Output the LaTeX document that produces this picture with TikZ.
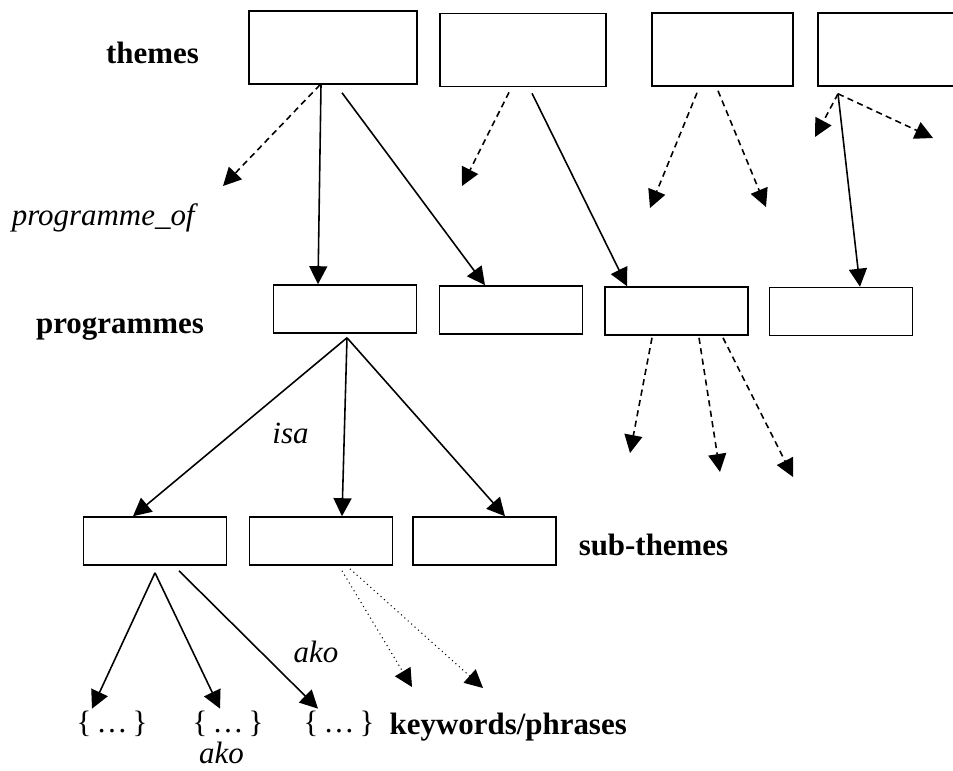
\documentclass[tikz,border=0pt]{standalone}
\usepackage{fontspec}
\setmainfont{Liberation Serif}
\usetikzlibrary{arrows.meta}

\begin{document}
\begin{tikzpicture}[
  font=\fontsize{17.6}{21}\selectfont,
  line width=0.9pt,
  >={Triangle[length=0.36cm,width=0.36cm]},
  topbox/.style={draw,minimum height=1.46cm},
  box/.style={draw,minimum width=2.86cm,minimum height=0.96cm},
  dashrel/.style={->,dash pattern=on 3.5pt off 2.5pt},
  dotrel/.style={->,dotted,line width=0.6pt}
]
\useasboundingbox (0,0) rectangle (19.06,15.4);
\clip (0,0) rectangle (19.06,15.4);

% themes
\node[topbox,minimum width=3.36cm] (T1) at (6.66,14.45) {};
\node[topbox,minimum width=3.32cm] (T2) at (10.46,14.40) {};
\node[topbox,minimum width=2.82cm] (T3) at (14.45,14.41) {};
\node[topbox,minimum width=2.82cm] (T4) at (17.77,14.41) {};
% programmes
\node[box] (P1) at (6.90,9.22) {};
\node[box] (P2) at (10.22,9.20) {};
\node[box] (P3) at (13.53,9.18) {};
\node[box] (P4) at (16.82,9.17) {};
% sub-themes
\node[box] (S1) at (3.10,4.58) {};
\node[box] (S2) at (6.42,4.58) {};
\node[box] (S3) at (9.69,4.58) {};
% keywords
\node[inner sep=1pt] (B1) at (2.24,0.92) {\{\,…\,\}};
\node[inner sep=1pt] (B2) at (4.56,0.92) {\{\,…\,\}};
\node[inner sep=1pt] (B3) at (6.78,0.92) {\{\,…\,\}};

\node (themes) at (3.05,14.34) {\textbf{themes}};
\node (progof) at (2.10,11.04) {\textit{programme\_of}};
\node (progs) at (2.40,8.83) {\textbf{programmes}};
\node (isa) at (5.81,6.74) {\textit{isa}};
\node (subth) at (13.07,4.50) {\textbf{sub-themes}};
\node[anchor=west] (kw) at (7.66,0.86) {\textbf{keywords/phrases}};
\node (ako1) at (6.32,2.37) {\textit{ako}};
\node[inner sep=0pt] (ako2) at (4.43,0.34) {\textit{ako}};

% loose ends
\coordinate (t1a) at (4.46,11.68);
\coordinate (t2a) at (9.24,11.68);
\coordinate (t3a) at (13.00,11.24);
\coordinate (t3b) at (15.32,11.26);
\coordinate (t4a) at (16.30,12.66);
\coordinate (t4b) at (18.66,12.64);
\coordinate (p3a) at (12.60,6.34);
\coordinate (p3b) at (14.40,5.96);
\coordinate (p3c) at (15.86,5.86);
\coordinate (s2a) at (8.24,1.66);
\coordinate (s2b) at (9.66,1.64);

% themes -> programmes
\draw[dashrel] ([xshift=-0.26cm]T1.south) -- (t1a);
\draw[->] ([xshift=-0.24cm]T1.south) -- ([xshift=-0.54cm]P1.north);
\draw[->] ([xshift=0.18cm,yshift=-0.16cm]T1.south) -- ([xshift=-0.52cm]P2.north);
\draw[dashrel] ([xshift=-0.28cm,yshift=-0.1cm]T2.south) -- (t2a);
\draw[->] ([xshift=0.18cm,yshift=-0.12cm]T2.south) -- ([xshift=-0.99cm]P3.north);
\draw[dashrel] ([xshift=-0.51cm,yshift=-0.12cm]T3.south) -- (t3a);
\draw[dashrel] ([xshift=-0.09cm,yshift=-0.08cm]T3.south) -- (t3b);
\draw[dashrel] ([xshift=-1.01cm,yshift=-0.14cm]T4.south) -- (t4a);
\draw[dashrel] ([xshift=-1.01cm,yshift=-0.14cm]T4.south) -- (t4b);
\draw[->] ([xshift=-1.01cm,yshift=-0.14cm]T4.south) -- ([xshift=0.38cm]P4.north);

% programmes -> sub-themes
\draw[->] ([xshift=0.04cm,yshift=-0.08cm]P1.south) -- ([xshift=-0.44cm]S1.north);
\draw[->] ([xshift=0.04cm,yshift=-0.08cm]P1.south) -- ([xshift=0.42cm]S2.north);
\draw[->] ([xshift=0.04cm,yshift=-0.08cm]P1.south) -- ([xshift=0.41cm]S3.north);
\draw[dashrel] ([xshift=-0.49cm,yshift=-0.04cm]P3.south) -- (p3a);
\draw[dashrel] ([xshift=0.45cm,yshift=-0.04cm]P3.south) -- (p3b);
\draw[dashrel] ([xshift=0.93cm,yshift=-0.04cm]P3.south) -- (p3c);

% sub-themes -> keywords
\draw[->] ([yshift=-0.14cm]S1.south) -- ([xshift=-0.4cm]B1.north);
\draw[->] ([yshift=-0.14cm]S1.south) -- ([xshift=-0.16cm]B2.north);
\draw[->] ([xshift=0.48cm,yshift=-0.1cm]S1.south) -- ([xshift=-0.42cm]B3.north);
\draw[dotrel] ([xshift=0.42cm,yshift=-0.1cm]S2.south) -- (s2a);
\draw[dotrel] ([xshift=0.58cm,yshift=-0.06cm]S2.south) -- (s2b);
\end{tikzpicture}
\end{document}
